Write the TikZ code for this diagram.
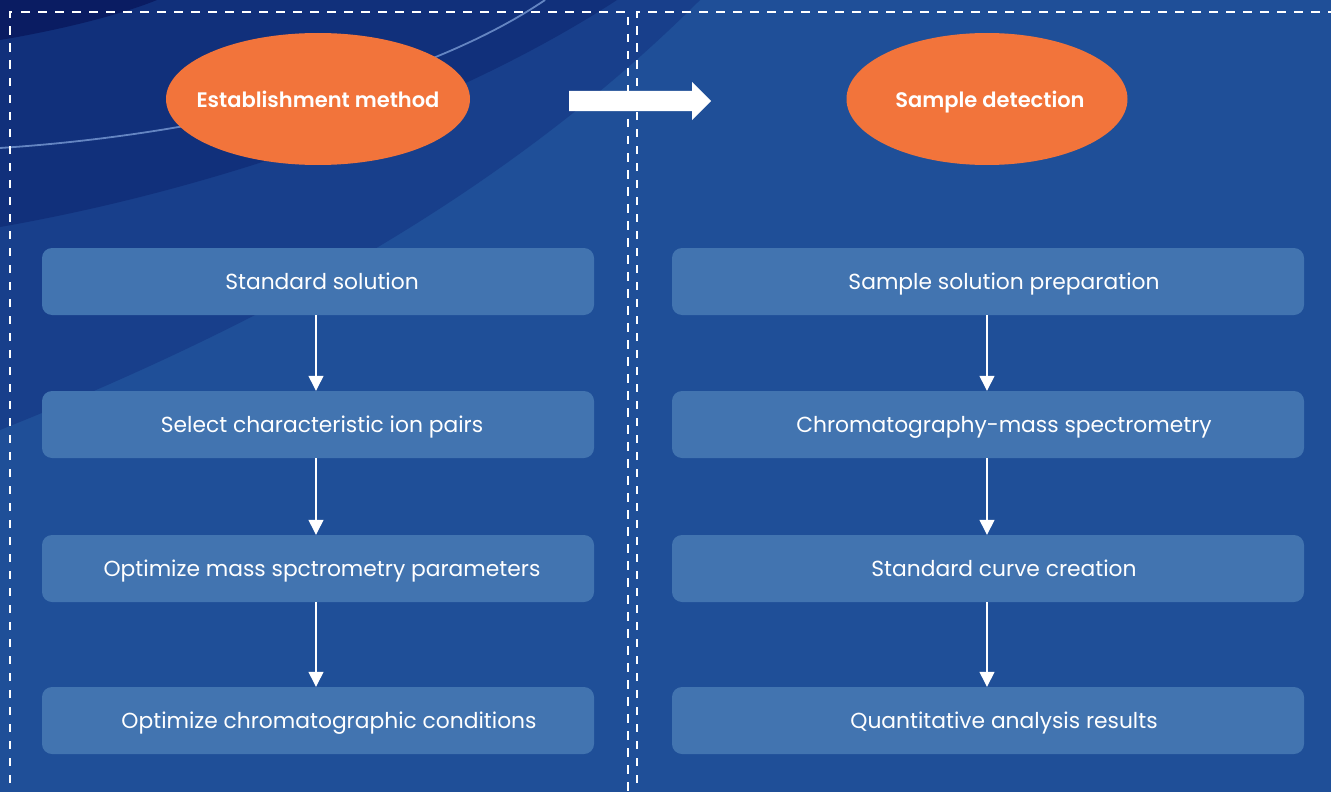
\documentclass[tikz,border=0pt]{standalone}
\usepackage{fontspec}
\setmainfont{Poppins}[BoldFont={* SemiBold}]
\usetikzlibrary{arrows.meta,shapes.geometric}
\definecolor{bgmain}{HTML}{1F4F98}
\definecolor{bandA}{HTML}{183F8B}
\definecolor{bandB}{HTML}{11307B}
\definecolor{bandC}{HTML}{0A1C62}
\definecolor{arcblue}{HTML}{6485C2}
\definecolor{boxblue}{HTML}{4274B0}
\definecolor{ovalorange}{HTML}{F2743B}
\begin{document}
\begin{tikzpicture}[x=1pt,y=-1pt,
  stepbox/.style={rectangle, rounded corners=10pt, fill=boxblue, text=white,
    minimum height=67pt, inner sep=0pt, text height=16pt, text depth=0pt,
    font=\fontsize{21.8}{26}\selectfont},
  leftbox/.style={stepbox, minimum width=552pt},
  rightbox/.style={stepbox, minimum width=632pt},
  oval/.style={ellipse, fill=ovalorange, text=white, minimum height=132pt,
    inner xsep=-40pt, inner ysep=0pt,
    text height=16pt, text depth=0pt, font=\fontsize{21}{25}\selectfont\bfseries},
  flow/.style={draw=white, line width=1.3pt, -{Triangle[width=15pt,length=15pt]}},
  frame/.style={draw=white, line width=2.6pt, dash pattern=on 8.5pt off 8.5pt}]
\useasboundingbox (0,0) rectangle (1331,792);
\begin{scope}
\clip (0,0) rectangle (1331,792);
\fill[bgmain] (0,0) rectangle (1331,792);
\fill[bandA] (0,430) .. controls (250,330) and (500,200) .. (700,0) -- (0,0) -- cycle;
\fill[bandB] (0,227) .. controls (200,192) and (440,115) .. (617,0) -- (0,0) -- cycle;
\fill[bandC] (0,40) .. controls (60,30) and (120,15) .. (157,0) -- (0,0) -- cycle;
\draw[arcblue, line width=1.8pt] (0,148) .. controls (200,135) and (420,85) .. (545,0);
\draw[frame] (10,800) -- (10,12) -- (628,12) -- (628,800);
\draw[frame] (637,800) -- (637,12) -- (1340,12);
\end{scope}

\node[oval, minimum width=304pt] (est) at (318,99) {Establishment method};
\node[oval, minimum width=281pt] (det) at (987,99) {\hspace*{6pt}Sample detection};
\fill[white] (569,91) -- (692,91) -- (692,82) -- (711,101) -- (692,120) -- (692,111) -- (569,111) -- cycle;

\node[leftbox] (l1) at (318,281.5) {\hspace*{8pt}Standard solution};
\node[leftbox] (l2) at (318,424.5) {\hspace*{8pt}Select characteristic ion pairs};
\node[leftbox] (l3) at (318,568.5) {\hspace*{8pt}Optimize mass spctrometry parameters};
\node[leftbox] (l4) at (318,720.5) {\hspace*{22pt}Optimize chromatographic conditions};

\node[rightbox] (r1) at (988,281.5) {\hspace*{32pt}Sample solution preparation};
\node[rightbox] (r2) at (988,424.5) {\hspace*{32pt}Chromatography-mass spectrometry};
\node[rightbox] (r3) at (988,568.5) {\hspace*{32pt}Standard curve creation};
\node[rightbox] (r4) at (988,720.5) {\hspace*{32pt}Quantitative analysis results};

\draw[flow] ([xshift=-2pt]l1.south) -- ([xshift=-2pt]l2.north);
\draw[flow] ([xshift=-2pt]l2.south) -- ([xshift=-2pt]l3.north);
\draw[flow] ([xshift=-2pt]l3.south) -- ([xshift=-2pt]l4.north);
\draw[flow] ([xshift=-1pt]r1.south) -- ([xshift=-1pt]r2.north);
\draw[flow] ([xshift=-1pt]r2.south) -- ([xshift=-1pt]r3.north);
\draw[flow] ([xshift=-1pt]r3.south) -- ([xshift=-1pt]r4.north);
\end{tikzpicture}
\end{document}
